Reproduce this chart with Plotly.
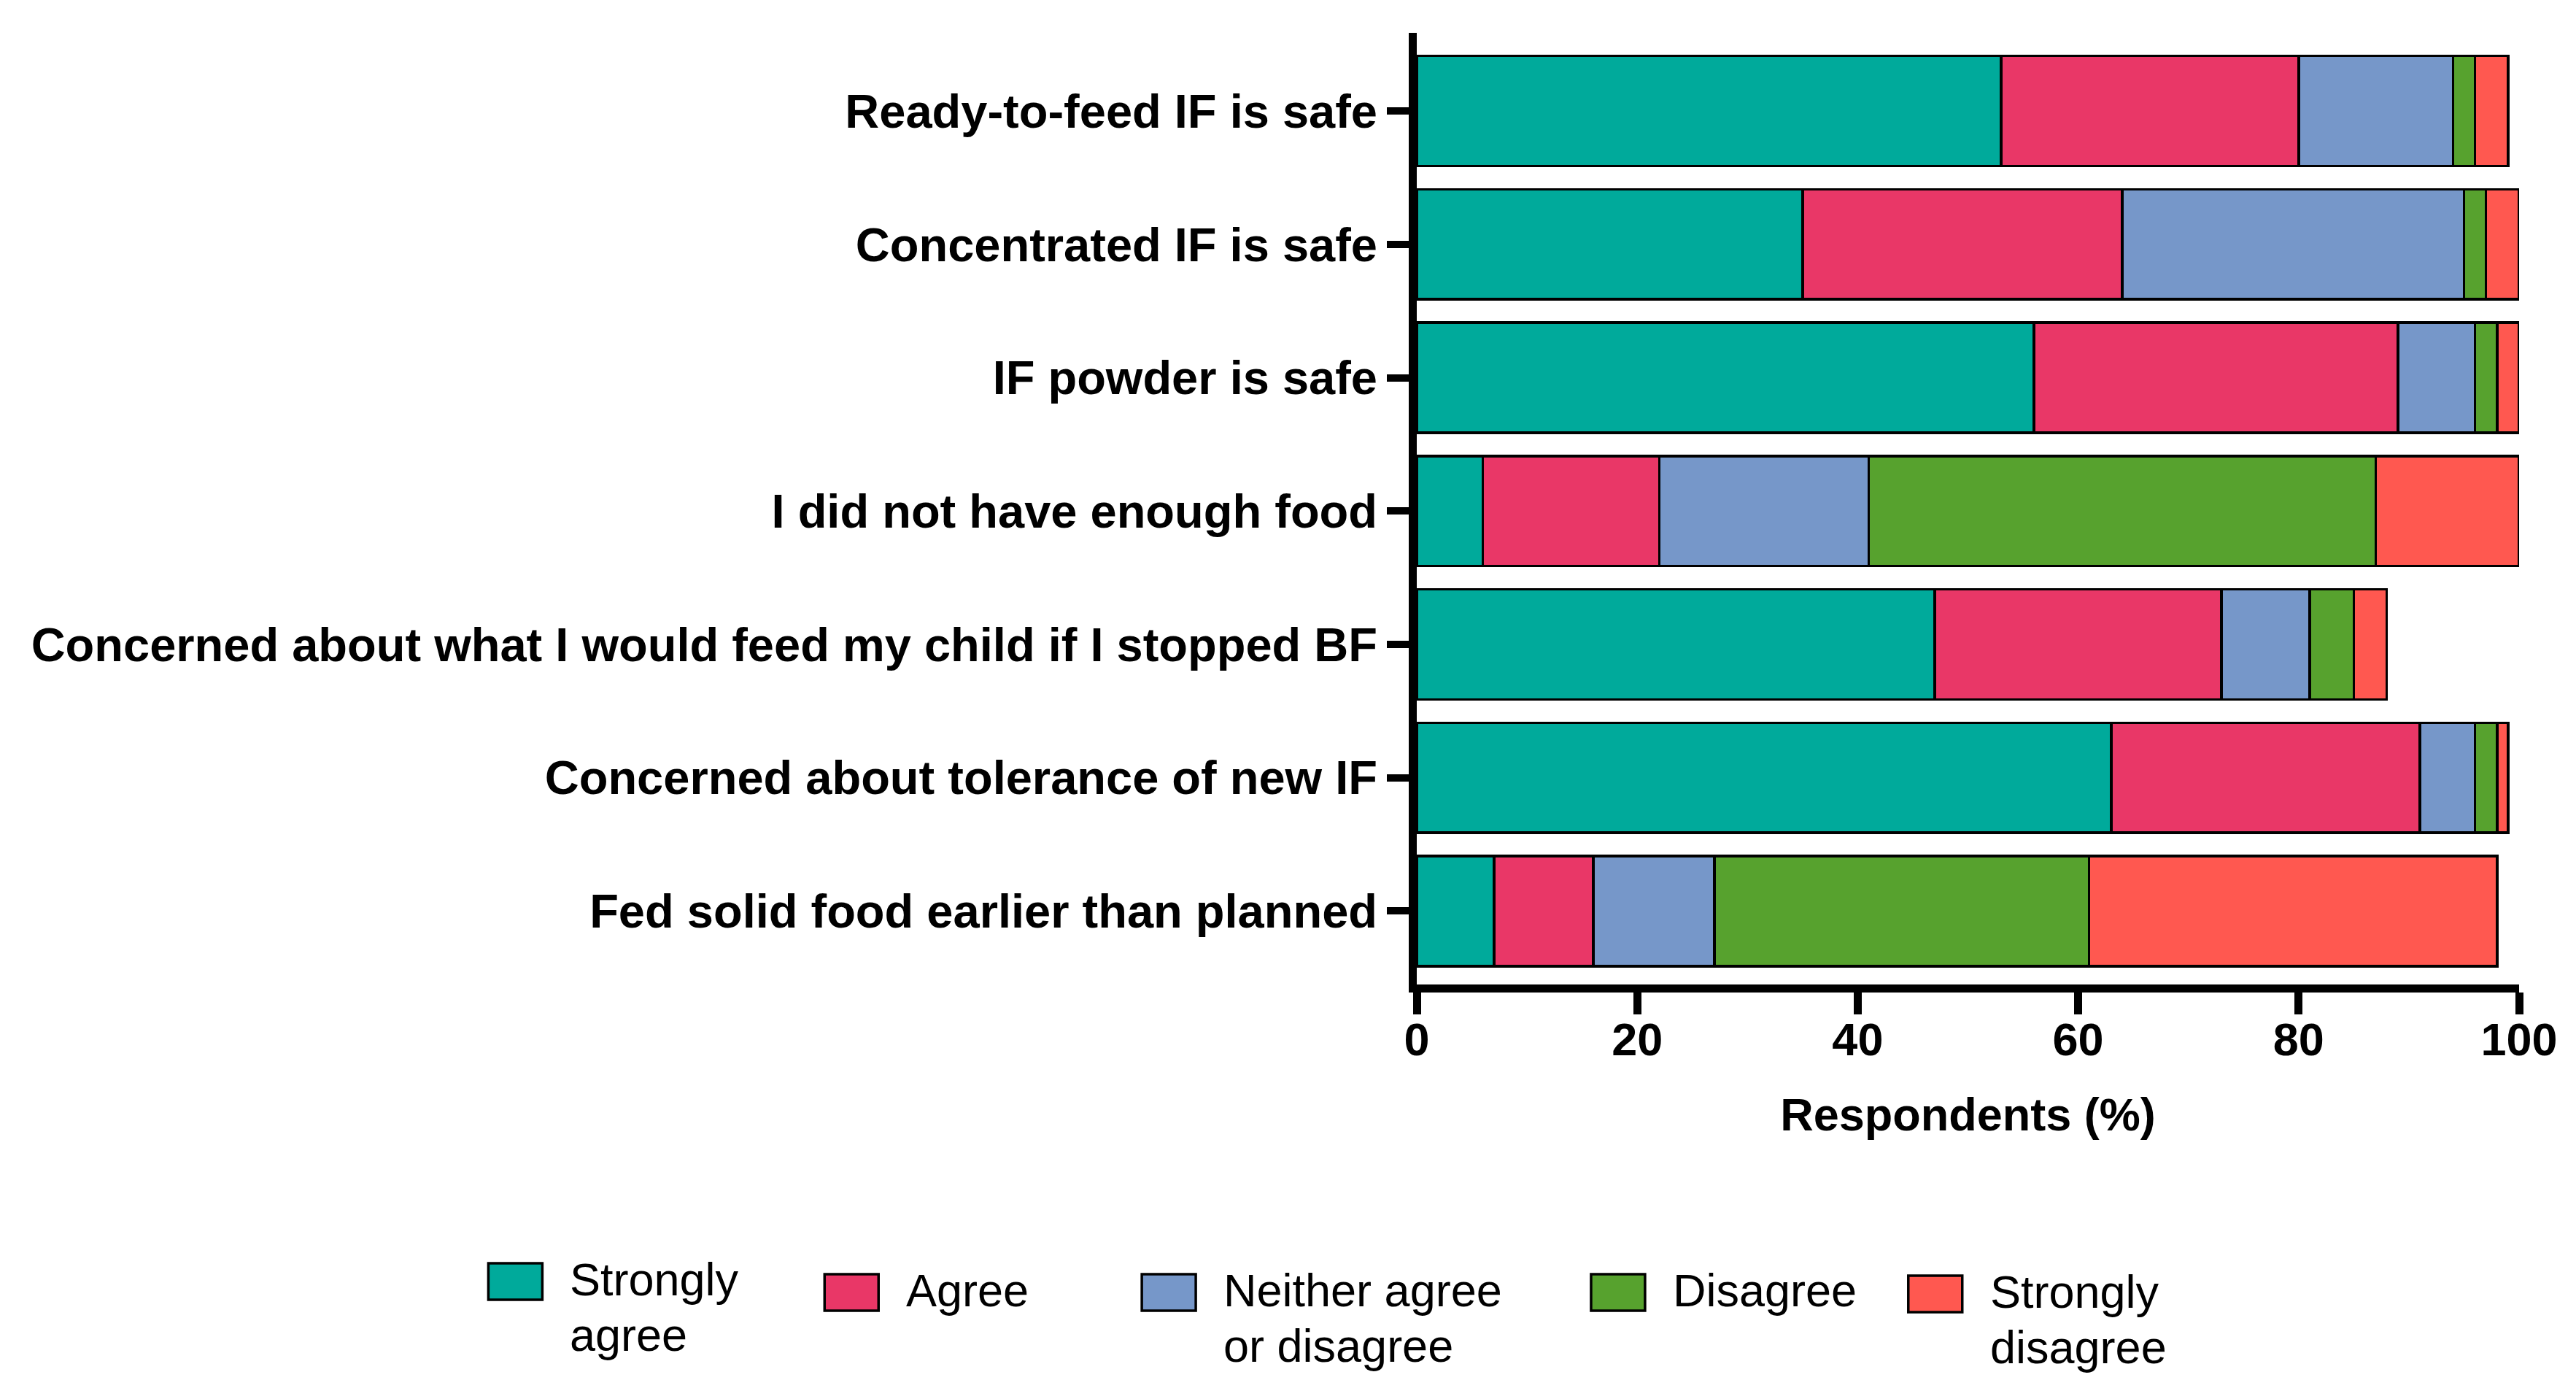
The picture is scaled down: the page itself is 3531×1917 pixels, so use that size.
import plotly.graph_objects as go

# ---- data ----
categories = [
    "Ready-to-feed IF is safe",
    "Concentrated IF is safe",
    "IF powder is safe",
    "I did not have enough food",
    "Concerned about what I would feed my child if I stopped BF",
    "Concerned about tolerance of new IF",
    "Fed solid food earlier than planned",
]
strongly_agree = [53, 35, 56, 6, 47, 63, 7]
agree = [27, 29, 33, 16, 26, 28, 9]
neither = [14, 31, 7, 19, 8, 5, 11]
disagree = [2, 2, 2, 46, 4, 2, 34]
strongly_disagree = [3, 3, 2, 13, 3, 1, 37]

series_names = ["Strongly agree", "Agree", "Neither agree or disagree", "Disagree", "Strongly disagree"]
legend_labels = [["Strongly", "agree"], ["Agree"], ["Neither agree", "or disagree"], ["Disagree"], ["Strongly", "disagree"]]
series_values = [strongly_agree, agree, neither, disagree, strongly_disagree]
colors = ["#00AA9B", "#E93767", "#7697C9", "#57A22E", "#FF5850"]

x_ticks = [0, 20, 40, 60, 80, 100]

# ---- layout constants (pixels) ----
FW, FH = 3531, 1917
L, R_EDGE = 1934, 3445.5
T, B_EDGE = 37, 1341
PW, PH = R_EDGE - L, B_EDGE - T
FONT = "Liberation Sans, Arial, Helvetica, sans-serif"
FS_LEG = 63
FS_CAT = 65
FS_TICK = 63


def px_x(px):
    return (px - L) / PW


def px_y(py):
    return (B_EDGE - py) / PH


fig = go.Figure()
for name, vals, col in zip(series_names, series_values, colors):
    fig.add_trace(go.Bar(
        y=categories, x=vals, name=name, orientation="h",
        marker=dict(color=col, line=dict(color="black", width=3.5)),
        showlegend=False,
    ))

# manual legend (large swatches, multi-line text)
swatch_pos = [(661, 1723), (1122, 1738), (1557, 1738), (2173, 1738), (2608, 1740)]
LINE_GAP = 76
shapes = []
annotations = []
for (sx, sy), lines, col in zip(swatch_pos, legend_labels, colors):
    shapes.append(dict(
        type="rect", xref="paper", yref="paper",
        x0=px_x(sx), x1=px_x(sx + 74), y0=px_y(sy), y1=px_y(sy + 50),
        fillcolor=col, line=dict(color="black", width=3.5),
    ))
    for i, line in enumerate(lines):
        annotations.append(dict(
            xref="paper", yref="paper", x=px_x(sx + 110), y=px_y(sy - 15 + LINE_GAP * i),
            xanchor="left", yanchor="top", align="left", showarrow=False,
            text=line, font=dict(family=FONT, size=FS_LEG, color="black"),
        ))

fig.update_layout(
    width=FW, height=FH,
    margin=dict(l=L, r=FW - R_EDGE, t=T, b=FH - B_EDGE, pad=0),
    barmode="stack", bargap=0.174,
    plot_bgcolor="white", paper_bgcolor="white",
    font=dict(family=FONT, size=FS_TICK, color="black"),
    shapes=shapes, annotations=annotations,
    xaxis=dict(
        range=[0, 100], tickvals=x_ticks, ticktext=[str(v) for v in x_ticks],
        showline=True, linewidth=11, linecolor="black",
        ticks="outside", ticklen=30, tickwidth=11, tickcolor="black",
        ticklabelstandoff=-20,
        showgrid=False, zeroline=False,
        tickfont=dict(family=FONT, size=FS_TICK, color="black", weight="bold"),
        title=dict(text="Respondents (%)", standoff=52,
                   font=dict(family=FONT, size=FS_TICK, color="black", weight="bold")),
    ),
    yaxis=dict(
        type="category", categoryorder="array", categoryarray=categories,
        range=[6.550, -0.5855],
        showline=True, linewidth=11, linecolor="black",
        ticks="outside", ticklen=30, tickwidth=10, tickcolor="black",
        showgrid=False, zeroline=False,
        tickfont=dict(family=FONT, size=FS_CAT, color="black", weight="bold"),
    ),
)

fig.write_html("out.html")
